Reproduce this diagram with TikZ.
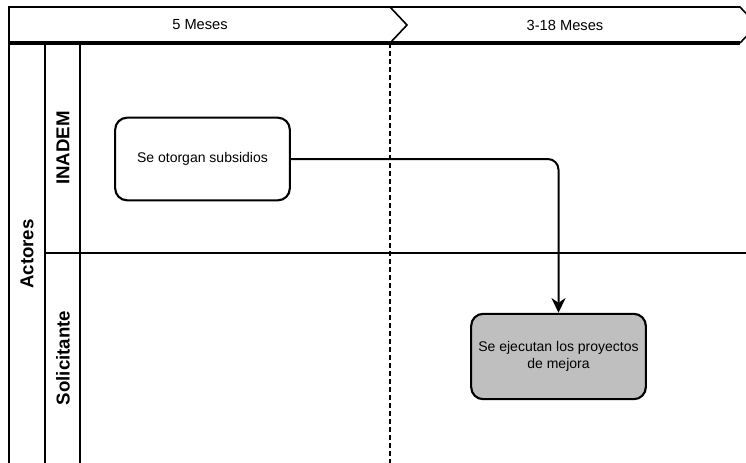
\documentclass[tikz,border=0pt]{standalone}
\usepackage{fontspec}
\setmainfont{Liberation Sans}
\usetikzlibrary{arrows.meta}

\begin{document}
\begin{tikzpicture}[x=0.75pt, y=-0.75pt,
    txt/.style={font=\fontsize{10.5}{12.5}\selectfont, align=center},
    phase/.style={font=\fontsize{11}{13}\selectfont},
    lanelabel/.style={font=\fontsize{14}{16}\selectfont\bfseries, rotate=90},
    proc/.style={txt, draw, line width=1.6pt, rounded corners=9pt,
        minimum width=131pt, minimum height=62pt},
    flow/.style={-{Stealth[length=11pt, width=10.5pt, inset=3.5pt]},
        line width=1.5pt, rounded corners=8pt}]
    \useasboundingbox (0,0) rectangle (746,462);
    \clip (0,0) rectangle (746,462);

    % Phases
    \draw[line width=1.2pt] (9,43) -- (9,7) -- (740,7) -- (757,25) -- (740,43);
    \draw[line width=1.2pt] (390,7) -- (407,25) -- (390,43);
    \draw[line width=2.3pt] (9,43) -- (740,43);
    \node[phase] (fase1) at (200,25) {5 Meses};
    \node[phase] (fase2) at (565,25) {3-18 Meses};

    % Pool and lanes
    \draw[line width=1.2pt] (9,43) -- (9,470);
    \draw[line width=1.2pt] (45,43) -- (45,470);
    \draw[line width=1.2pt] (80,43) -- (80,470);
    \draw[line width=1.2pt] (45,253) -- (750,253);
    \draw[line width=1.2pt, dash pattern=on 3.5pt off 2.5pt] (390,43) -- (390,470);

    \node[lanelabel] (actores) at (27,254) {Actores};
    \node[lanelabel] (inadem) at (63,148) {INADEM};
    \node[lanelabel] (solicitante) at (63,358) {Solicitante};

    % Activities
    \node[proc] (otorgan) at (202.5,159) {Se otorgan subsidios};
    \node[proc, fill=black!25, minimum height=64pt] (ejecutan) at (558.5,356.5)
        {Se ejecutan los proyectos\\de mejora};

    \draw[flow] (otorgan.east) -| (ejecutan.north);

\end{tikzpicture}
\end{document}
